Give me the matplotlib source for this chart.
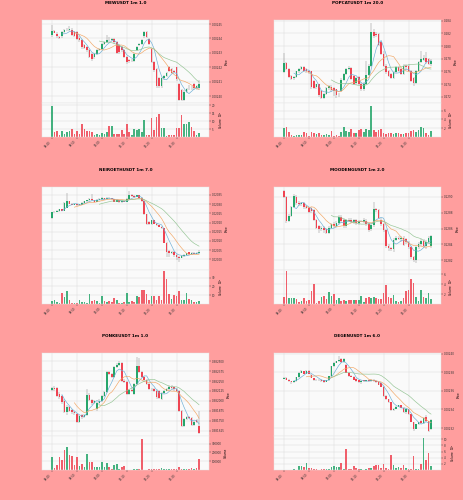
import numpy as np
import pandas as pd
import matplotlib
matplotlib.use('Agg')
import matplotlib.pyplot as plt

# times on the x axis (1 minute candles, label every 10)
time_labels = ['08:40', '08:50', '09:00', '09:10', '09:20', '09:30']

# ---- MEWUSDT (prices in 1e-5) ----
mew_open = [244.27,244.51,244.34,244.10,244.15,244.44,244.58,244.62,244.62,244.44,244.44,244.06,243.92,243.52,243.40,243.22,242.93,242.70,242.93,243.17,243.29,243.64,243.76,243.92,243.87,243.99,243.76,243.52,243.40,243.17,242.70,242.52,242.42,242.46,243.17,243.52,243.64,244.15,244.44,243.99,243.29,242.35,241.88,241.24,240.70,241.24,241.41,242.00,241.88,241.76,242.00,240.88,240.40,239.77,240.31,240.54,240.59,240.82,240.54,240.54]
mew_close = [244.51,244.40,244.15,244.06,244.44,244.58,244.62,244.69,244.27,244.20,243.99,243.87,243.40,243.33,243.17,242.75,242.58,242.93,243.17,243.29,243.64,243.76,243.92,243.87,243.99,243.76,243.00,243.05,243.17,242.75,242.39,242.42,242.46,242.93,243.40,243.64,243.87,244.44,244.10,243.64,242.39,241.83,240.70,240.70,241.24,241.41,241.64,241.76,241.64,241.70,241.17,239.77,239.77,240.31,240.47,240.59,240.54,240.54,240.70,240.87]
mew_high = [244.95,244.60,244.45,244.20,244.50,244.65,244.75,244.85,244.70,244.50,244.50,244.15,243.98,243.60,243.50,243.30,243.00,243.00,243.25,243.35,243.70,243.85,244.25,244.10,244.05,244.05,243.85,243.60,243.48,243.25,242.80,242.60,242.55,243.00,243.45,243.70,243.95,244.55,244.50,244.05,243.35,242.45,241.95,241.35,241.30,241.50,241.70,242.10,241.95,241.85,242.05,240.95,240.50,240.40,240.55,240.80,240.70,240.90,240.80,241.10]
mew_low = [244.10,244.35,244.05,243.95,244.05,244.38,244.50,244.55,244.20,244.10,243.90,243.75,243.30,243.25,243.05,242.65,242.45,242.55,242.85,243.10,243.20,243.55,243.70,243.78,243.80,243.65,242.90,242.95,243.05,242.65,242.25,242.30,242.35,242.40,243.10,243.45,243.58,244.05,244.00,243.55,242.30,241.70,240.55,240.55,240.60,241.15,241.35,241.65,241.55,241.60,241.05,239.70,239.65,239.70,240.25,240.45,240.40,240.45,240.45,240.40]
mew_vol = [19.5,3,3.5,1.5,4,2,3,3.5,5,2,4,2,8.5,5,3.5,3.5,3,1.5,2,1,2.5,2,3,7,7,2,2,2,4.5,2,8.5,3,1,5,4.5,5,3,10.5,1,1.5,12,4.5,12.5,14.5,5.5,5.5,0.5,1,1,1.5,5.5,5.5,14,8.5,8,9.5,6.5,4,1.5,2.5]

# ---- POPCATUSDT (prices in 1e-3) ----
pop_open = [275.95,277.28,276.37,275.31,274.93,275.15,276.00,276.37,276.64,276.37,276.11,276.00,274.51,273.55,273.97,272.91,271.84,272.48,273.33,273.55,273.33,273.17,272.37,272.91,274.67,275.57,276.37,276.53,275.31,274.24,275.15,274.08,273.17,274.08,275.47,276.91,282.24,281.97,281.97,280.64,278.77,276.91,276.11,275.57,275.04,275.84,276.64,276.37,275.68,276.91,276.91,276.11,275.04,274.24,276.11,277.44,277.81,278.13,277.97,277.17]
pop_close = [277.28,276.37,275.15,274.77,275.15,276.00,276.37,276.75,276.11,276.00,275.84,273.55,273.44,273.97,272.27,271.84,272.48,273.33,273.65,273.01,272.91,272.37,272.27,274.67,275.57,276.37,276.53,274.77,273.97,275.04,274.08,273.17,274.08,275.47,276.91,282.24,281.55,281.71,280.11,278.77,276.91,275.84,275.31,275.04,275.84,276.64,276.11,275.57,276.91,276.64,276.11,274.51,274.24,276.11,277.44,277.97,278.13,277.44,277.17,277.71]
pop_high = [278.9,277.5,276.5,275.5,275.3,276.1,276.5,276.9,276.8,276.5,276.2,276.1,274.7,274.1,274.1,273.1,272.6,273.5,273.9,273.8,273.5,273.3,272.6,275.0,275.7,276.5,276.8,276.7,275.5,275.2,275.3,274.3,274.3,277.7,277.2,283.6,282.7,282.2,282.1,280.8,279.2,277.1,276.3,275.8,276.0,276.8,276.8,276.5,277.1,277.1,277.1,276.3,275.2,276.3,277.6,279.2,278.6,279.0,278.1,277.9]
pop_low = [275.7,276.2,275.0,274.6,274.7,274.9,275.8,276.2,275.9,275.8,275.6,273.3,273.2,273.3,272.0,271.6,271.6,272.3,273.1,272.8,272.1,271.9,272.0,272.7,274.5,275.4,276.3,274.6,273.8,273.9,273.9,272.9,272.9,273.9,275.3,276.7,281.3,281.4,280.0,278.6,276.7,275.6,275.1,274.8,274.8,275.7,275.9,275.4,275.5,276.3,275.9,274.3,273.7,274.1,276.0,277.3,277.6,277.2,277.0,276.9]
pop_vol = [2,2.3,1.2,0.4,0.3,0.4,0.4,0.5,1.1,0.8,0.3,1.2,0.8,0.6,0.9,0.4,0.5,0.6,0.4,1.4,0.2,0.5,0.3,1.2,2.2,1.4,1.2,1.8,1,0.8,1.5,1.8,1.2,1.9,1.5,7.1,1.5,1.1,1.6,1.7,0.9,0.7,0.9,0.8,0.7,0.8,0.9,0.6,0.7,0.8,0.9,1.4,1.6,1.2,1.6,2.3,2.0,0.8,0.5,1.4]

# ---- NEIROETHUSDT (prices in 1e-5) ----
neiro_open = [2022.33,2025.45,2025.97,2026.15,2027.19,2026.32,2028.06,2031.53,2030.31,2029.62,2029.97,2029.44,2029.62,2030.66,2031.53,2032.05,2032.92,2032.05,2031.35,2032.40,2032.74,2033.09,2032.74,2033.44,2033.09,2032.74,2031.35,2032.05,2031.01,2031.70,2031.35,2032.74,2035.17,2034.48,2034.13,2034.83,2033.26,2031.53,2024.58,2020.24,2019.03,2021.11,2019.38,2018.51,2017.81,2016.77,2008.96,2004.62,2003.23,2004.10,2002.54,2001.49,2000.80,2001.84,2002.36,2003.75,2002.88,2003.58,2003.06,2003.40]
neiro_close = [2025.45,2025.97,2026.49,2027.19,2026.32,2030.66,2031.53,2030.31,2029.62,2029.97,2029.44,2029.97,2030.66,2031.53,2032.05,2032.92,2032.05,2031.35,2032.40,2032.74,2033.44,2032.74,2033.44,2033.09,2032.74,2031.35,2032.05,2031.01,2031.70,2031.35,2032.74,2035.17,2034.48,2034.13,2034.83,2033.26,2031.53,2024.58,2019.38,2019.03,2021.11,2019.38,2018.51,2017.81,2016.77,2008.96,2004.10,2003.23,2004.10,2002.54,2001.49,2000.80,2001.84,2002.36,2003.40,2002.88,2003.58,2003.06,2003.58,2003.75]
neiro_high = [2025.8,2026.3,2026.8,2027.5,2027.6,2031.0,2036.2,2031.9,2030.6,2030.3,2030.2,2030.3,2031.0,2031.9,2032.4,2033.2,2035.3,2032.3,2032.7,2033.1,2033.8,2033.5,2033.8,2033.8,2033.4,2033.0,2032.4,2032.3,2032.0,2031.9,2033.1,2037.3,2035.5,2034.8,2035.1,2035.1,2033.6,2031.9,2024.9,2020.6,2021.5,2021.4,2019.7,2018.9,2018.1,2017.1,2009.3,2005.0,2004.5,2004.4,2002.9,2001.8,2002.2,2002.7,2003.7,2004.1,2003.9,2003.9,2003.9,2005.0]
neiro_low = [2022.0,2025.1,2025.6,2025.8,2026.0,2026.0,2027.7,2029.9,2029.3,2029.3,2029.1,2029.1,2029.3,2030.4,2031.2,2031.7,2031.7,2031.0,2031.0,2032.1,2032.4,2032.4,2032.4,2032.8,2032.4,2031.0,2031.0,2030.7,2030.7,2031.0,2031.0,2032.4,2034.1,2033.8,2033.8,2032.9,2031.2,2024.2,2018.5,2018.7,2018.7,2019.0,2018.2,2017.5,2016.4,2008.6,2001.1,2001.5,2002.8,2001.5,1999.5,1998.5,2000.5,2001.5,2002.0,2002.5,2002.6,2002.7,2002.7,2003.0]
neiro_vol = [3,5,2,1,12,8,14.5,4,1.5,1.5,1,5,2.5,2,1.5,11.5,3.5,4,3,1.5,9,3,2.5,3,2.5,7,4,1,1,2,12,2.5,3.5,2,9.5,8,16,15.5,11,4.5,9,8.5,5,9,5,37,28,11,5.5,10,9,15,5,5,12,6,4,2,2,3]

# ---- MOODENGUSDT (prices in 1e-4) ----
moo_open = [1290.74,1289.92,1286.93,1287.62,1288.77,1290.00,1289.18,1289.10,1289.18,1288.85,1288.57,1288.57,1288.36,1287.05,1286.31,1285.90,1286.10,1285.98,1285.49,1286.10,1286.51,1286.31,1286.64,1287.46,1287.13,1286.31,1287.05,1287.05,1286.80,1287.05,1286.64,1286.93,1286.88,1287.01,1286.51,1285.90,1286.39,1288.44,1288.36,1287.13,1286.51,1285.82,1283.77,1283.52,1283.44,1284.59,1284.87,1284.67,1284.75,1284.67,1284.26,1283.64,1282.41,1282.00,1283.64,1284.05,1284.46,1283.77,1284.34,1283.85]
moo_close = [1289.92,1286.93,1287.62,1288.77,1290.08,1289.18,1289.10,1289.18,1288.69,1288.57,1288.03,1288.16,1287.05,1286.10,1285.90,1286.10,1285.82,1285.49,1286.10,1286.51,1286.31,1286.64,1287.46,1286.93,1286.31,1287.05,1286.93,1286.84,1287.05,1286.64,1286.93,1286.97,1287.05,1286.51,1285.82,1286.39,1288.44,1288.36,1287.34,1286.51,1285.82,1283.77,1283.52,1283.44,1284.59,1284.87,1284.67,1284.75,1283.93,1284.26,1283.64,1282.41,1282.00,1283.64,1284.05,1284.46,1283.77,1284.34,1284.75,1285.00]
moo_high = [1290.9,1290.1,1287.8,1288.9,1290.3,1290.2,1289.5,1289.4,1289.4,1289.0,1288.7,1288.7,1288.5,1287.2,1286.5,1286.3,1286.3,1286.1,1286.3,1286.7,1286.8,1286.9,1287.7,1287.7,1287.3,1287.2,1287.3,1287.3,1287.2,1287.2,1287.1,1287.1,1287.3,1287.2,1286.7,1286.5,1289.4,1288.6,1288.5,1287.3,1286.7,1286.0,1284.0,1283.7,1284.8,1285.0,1285.0,1285.1,1285.0,1284.8,1284.4,1283.8,1282.6,1283.8,1284.3,1284.7,1284.7,1284.5,1285.1,1285.2]
moo_low = [1289.8,1286.7,1286.8,1287.5,1288.6,1289.0,1288.9,1288.9,1288.5,1288.4,1287.9,1288.0,1286.9,1285.9,1285.4,1285.7,1285.4,1285.3,1285.3,1285.9,1286.1,1286.2,1286.5,1286.7,1286.1,1286.1,1286.8,1286.7,1286.6,1286.5,1286.5,1286.8,1286.7,1286.3,1285.6,1285.7,1286.2,1288.1,1287.2,1286.3,1285.6,1283.6,1283.2,1283.2,1283.0,1284.4,1284.5,1284.3,1283.8,1284.0,1283.4,1282.2,1281.8,1281.6,1283.4,1283.8,1283.6,1283.4,1284.1,1283.6]
moo_vol = [1.4,6.6,1.3,1.2,1.3,1.0,0.5,0.6,1.3,0.6,0.8,2.7,4.0,0.3,0.7,1.5,1.7,1.0,2.5,1.7,2.0,0.9,1.2,0.6,0.8,0.6,0.8,0.8,0.8,0.8,0.8,1.7,0.4,1.2,1.4,1.2,1.4,1.2,1.1,1.1,2.2,3.8,1.4,1.3,1.8,0.6,0.5,0.7,1.3,2.7,2.8,5.0,4.2,1.4,0.6,2.8,1.5,1.3,2.3,1.1]

# ---- PONKEUSDT (prices in 1e-6) ----
ponke_open = [382138,382163,382163,382088,382067,382003,381864,381919,381886,381856,381835,381742,381827,381801,381827,382079,382012,381970,381898,381970,382003,382062,382109,382361,382340,382306,382424,382454,382475,382256,382235,382088,382138,382088,382214,382433,382361,382298,382264,382214,382151,382146,382130,382121,382024,382096,382130,382151,382180,382172,382146,382121,381877,381688,381772,381801,381785,381700,381759,381688]
ponke_close = [382163,382146,382067,382045,381982,381864,381928,381877,381856,381843,381742,381814,381801,381827,382079,382012,381970,381995,381970,382003,382062,382109,382361,382340,382306,382424,382454,382475,382256,382235,382088,382138,382130,382214,382433,382361,382298,382264,382214,382151,382146,382130,382045,382037,382096,382130,382151,382180,382163,382146,382121,381877,381688,381772,381801,381785,381700,381742,381742,381604]
ponke_high = [382180,382190,382175,382110,382080,382020,381945,381935,381900,381870,381850,381830,381840,381840,382150,382100,382030,382010,381990,382020,382075,382120,382380,382375,382350,382440,382470,382500,382490,382270,382250,382150,382160,382230,382550,382540,382380,382310,382280,382230,382165,382160,382145,382135,382110,382140,382165,382195,382195,382185,382160,382135,381890,381790,381810,381815,381800,381755,381770,381870]
ponke_low = [382125,382130,382050,382030,381960,381850,381830,381860,381840,381820,381730,381730,381780,381790,381810,382000,381955,381960,381880,381955,381990,382050,382095,382320,382290,382290,382410,382440,382240,382220,382070,382075,382115,382070,382200,382345,382285,382250,382200,382140,382130,382115,382030,382020,382010,382085,382120,382140,382150,382130,382110,381860,381670,381675,381760,381770,381690,381690,381725,381590]
ponke_vol = [142000,27000,58000,142000,108000,223000,258000,169000,162000,58000,142000,46000,65000,38000,185000,85000,85000,38000,31000,38000,85000,38000,77000,31000,15000,58000,65000,15000,38000,46000,5000,3000,4000,6000,8000,12000,354000,5000,4000,10000,12000,8000,10000,6000,18000,8000,10000,6000,8000,10000,12000,30000,15000,8000,10000,6000,20000,12000,18000,130000]

# ---- DEGENUSDT (prices in 1e-5) ----
degen_open = [237.32,237.39,237.21,237.04,236.93,237.04,237.46,237.93,238.11,237.86,238.14,237.75,237.39,237.21,237.14,237.21,237.14,236.93,237.14,237.57,238.64,239.00,239.18,239.43,239.07,238.82,237.93,237.64,237.50,237.29,237.14,236.93,237.14,237.04,237.21,237.04,237.21,237.04,236.93,236.79,236.43,235.43,235.07,234.79,233.93,234.07,234.29,234.43,234.18,233.71,234.00,233.46,232.64,231.93,232.39,232.75,232.50,233.21,232.75,231.86]
degen_close = [237.39,237.21,237.04,236.93,237.04,237.46,237.93,238.11,237.86,238.14,237.86,237.39,237.14,237.14,237.21,237.04,236.93,237.14,237.57,238.64,239.00,239.18,239.29,239.07,239.43,237.93,237.57,237.50,237.21,237.04,236.93,237.11,237.04,237.14,237.04,237.21,237.04,236.93,236.68,236.43,235.43,235.07,234.79,233.93,234.07,234.29,234.43,234.18,233.71,234.07,233.46,232.64,231.93,232.39,232.64,232.50,233.11,232.75,231.68,232.86]
degen_high = [237.45,237.45,237.25,237.08,237.10,237.50,237.98,238.20,238.18,238.20,238.20,237.80,237.42,237.25,237.25,237.25,237.18,237.20,237.62,238.70,239.05,239.25,239.71,239.55,239.50,238.90,237.98,237.70,237.55,237.35,237.18,237.15,237.18,237.18,237.25,237.25,237.25,237.08,236.97,236.85,236.50,235.50,235.12,234.85,234.12,234.35,234.50,234.50,234.22,234.10,234.05,233.50,232.70,232.45,232.70,232.90,233.20,233.35,232.80,232.95]
degen_low = [237.28,237.18,236.98,236.70,236.88,237.00,237.42,237.88,237.82,237.82,237.82,237.35,237.08,237.10,237.10,237.00,236.88,236.90,237.10,237.52,238.60,238.95,239.15,239.00,239.02,237.88,237.50,237.45,237.15,236.98,236.85,236.72,237.00,237.00,237.00,237.00,237.00,236.88,236.62,236.40,235.38,235.02,234.74,233.88,233.88,234.03,234.25,234.12,233.66,233.50,233.40,232.60,231.68,231.88,232.35,232.44,232.45,232.70,231.60,231.82]
degen_vol = [0.1,0.1,0.1,0.1,0.2,0.1,1.3,1.3,1.0,2.2,0.5,0.7,0.4,0.2,0.1,0.2,0.2,0.3,0.2,1.1,1.3,0.9,0.9,2.2,0.3,6.8,0.3,0.4,1.2,0.5,0.3,0.2,0.1,0.2,0.6,0.7,1.3,1.5,1.5,0.5,2.0,0.5,0.3,4.8,1.7,0.8,1.0,0.6,1.7,0.5,0.3,0.4,4.6,0.4,0.3,1.8,10.5,3.4,5.7,1.3]

UP = '#26a66b'
DOWN = '#ef4452'
MA_COLORS = ['#6aaed6', '#f2a562', '#93c493']
BG = '#ff9e9e'

fig = plt.figure(figsize=(4.64, 5.0), dpi=100, facecolor=BG)
W, H = 464.0, 500.0


def panel(x0, top, title, o, h, l, c, v, scale, digits, pticks, plim,
          vticks, vlim, vlabel):
    n = min(len(o), len(h), len(l), len(c), len(v))
    o, h, l, c, v = [np.array(a[:n], dtype=float) for a in (o, h, l, c, v)]
    ph, vh, w = 83, 34, 167
    axp = fig.add_axes([x0 / W, 1 - (top + ph) / H, w / W, ph / H])
    axv = fig.add_axes([x0 / W, 1 - (top + ph + vh) / H, w / W, vh / H], sharex=axp)
    x = np.arange(n)
    up = c >= o
    cols = np.where(up, UP, DOWN)
    for ax in (axp, axv):
        ax.set_facecolor('#fafafa')
        ax.grid(True, color='#dddddd', lw=0.35)
        ax.set_axisbelow(True)
        for s in ax.spines.values():
            s.set_color('#e6e6e6')
            s.set_linewidth(0.3)
        ax.yaxis.tick_right()
        ax.yaxis.set_label_position('right')
        ax.tick_params(labelsize=2, length=1.2, width=0.3, pad=1, colors='#333333')
    axp.vlines(x, l, h, color='#888888', lw=0.35, zorder=2)
    body = np.maximum(np.abs(c - o), (plim[1] - plim[0]) * 0.004)
    axp.bar(x, body, bottom=np.minimum(o, c), width=0.65, color=cols, zorder=3, lw=0)
    s = pd.Series(c)
    for k, col in zip((5, 10, 20), MA_COLORS):
        axp.plot(x, s.rolling(k).mean(), color=col, lw=0.45, zorder=4)
    axp.set_ylim(*plim)
    axp.set_yticks(pticks)
    axp.set_yticklabels(['%.*f' % (digits, t * scale) for t in pticks])
    axp.set_ylabel('Price', fontsize=2, labelpad=1.5)
    plt.setp(axp.get_xticklabels(), visible=False)
    axv.bar(x, v, width=0.65, color=cols, lw=0, alpha=0.85)
    axv.set_ylim(0, vlim)
    axv.set_yticks(vticks)
    axv.set_yticklabels([str(t) for t in vticks])
    axv.set_ylabel(vlabel, fontsize=2, labelpad=1.5)
    axv.set_xlim(-4, n + 3)
    axv.set_xticks(range(0, n, 10))
    axv.set_xticklabels(time_labels[:len(range(0, n, 10))], rotation=45, ha='right')
    fig.text((x0 + w / 2) / W, 1 - (top - 17) / H, title, ha='center', va='center',
             fontsize=3, fontweight='bold')


L, R = 42, 274
panel(L, 20, 'MEWUSDT 1m 1.0', mew_open, mew_high, mew_low, mew_close, mew_vol,
      1e-5, 5, [240, 241, 242, 243, 244, 245], (239.53, 245.28),
      [5, 10, 15, 20], 21.5, 'Volume  $10^{6}$')
panel(R, 20, 'POPCATUSDT 1m 20.0', pop_open, pop_high, pop_low, pop_close, pop_vol,
      1e-3, 3, [272, 274, 276, 278, 280, 282, 284], (271.04, 284.1),
      [2, 4, 6], 7.7, 'Volume  $10^{5}$')
panel(L, 187, 'NEIROETHUSDT 1m 7.0', neiro_open, neiro_high, neiro_low, neiro_close, neiro_vol,
      1e-5, 5, [2000, 2005, 2010, 2015, 2020, 2025, 2030, 2035], (1994.2, 2039.3),
      [10, 20, 30], 38.5, 'Volume  $10^{5}$')
panel(R, 187, 'MOODENGUSDT 1m 2.0', moo_open, moo_high, moo_low, moo_close, moo_vol,
      1e-4, 4, [1282, 1284, 1286, 1288, 1290], (1280.78, 1291.23),
      [2, 4, 6], 6.9, 'Volume  $10^{5}$')
panel(L, 353, 'PONKEUSDT 1m 1.0', ponke_open, ponke_high, ponke_low, ponke_close, ponke_vol,
      1e-6, 6, [381625, 381750, 381875, 382000, 382125, 382250, 382375, 382500], (381561, 382601),
      [100000, 200000, 300000], 385000, 'Volume')
panel(R, 353, 'DEGENUSDT 1m 6.0', degen_open, degen_high, degen_low, degen_close, degen_vol,
      1e-5, 5, [232, 234, 236, 238, 240], (231.14, 240.07),
      [2, 4, 6, 8, 10], 11.1, 'Volume  $10^{6}$')

plt.savefig('out.png', dpi=100, facecolor=BG)
